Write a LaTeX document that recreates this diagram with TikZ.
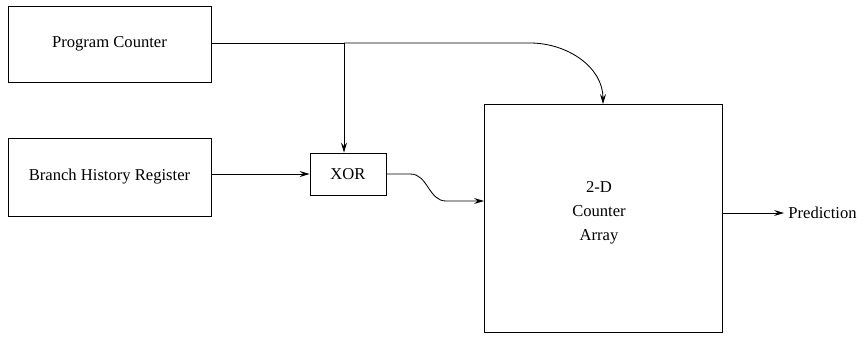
\documentclass[tikz,border=0pt]{standalone}
\usepackage{fontspec}
\setmainfont{Liberation Serif}
\usepackage{tikz}
\usetikzlibrary{positioning,arrows.meta,calc}

\begin{document}
\begin{tikzpicture}[x=0.025cm, y=-0.025cm, font=\fontsize{11.8}{17}\selectfont,
  line width=0.6pt,
  blockbox/.style={draw, inner sep=0pt},
  wire/.style={-{Stealth[length=2.5mm,width=1.5mm,inset=0.9mm]}}]
\useasboundingbox (0,0) rectangle (868,337);

\node[blockbox, minimum width=5.075cm, minimum height=1.9cm] (pc) at (109.5,44) {Program Counter};
\node[blockbox, minimum width=5.075cm, minimum height=1.95cm] (bhr) at (109.5,177) {Branch History Register};
\node[blockbox, minimum width=1.9cm, minimum height=1.05cm] (xor) at (348,174) {XOR};
\node[blockbox, minimum width=5.95cm, minimum height=5.7cm] (array) at (603,218.5) {};
\node[align=center] (arraytxt) at (599,213) {2-D\\Counter\\Array};
\node[anchor=west, inner sep=0.1cm] (pred) at (784,213) {Prediction};

\coordinate (split) at (344,43);
\coordinate (bend) at (530,43);
\coordinate (arrin) at (484,201);

% program counter feeds xor and the array
\draw (pc.east |- split) -- (split);
\draw[wire] (split) -- (bend) to[out=0, in=90] (array.north);
\draw[wire] (split) -- (split |- xor.north);

\draw[wire] (bhr.east |- xor.west) -- (xor.west);
\draw[wire] (xor.east) -- ++(24,0) to[out=0, in=180] ($(arrin)+(-38,0)$) -- (arrin);

\draw[wire] (array.east |- pred.west) -- (pred.west);
\end{tikzpicture}
\end{document}
